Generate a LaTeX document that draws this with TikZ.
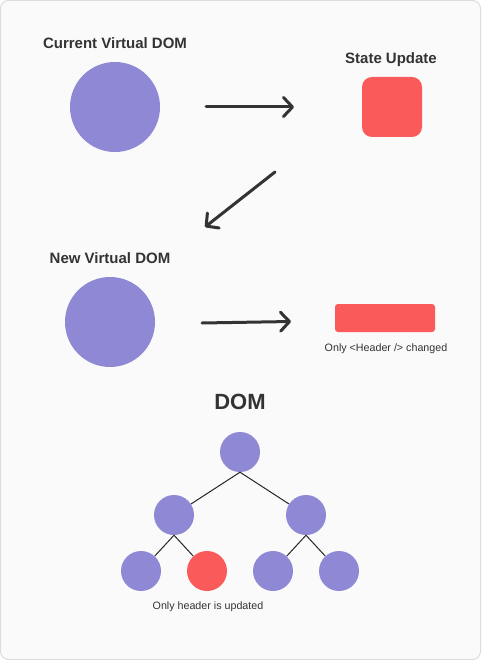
\documentclass[tikz,border=0pt]{standalone}
\usepackage{fontspec}
\setmainfont{Liberation Sans}
\usetikzlibrary{arrows.meta}
\definecolor{bg}{HTML}{FAFAFA}
\definecolor{frame}{HTML}{DCDCDC}
\definecolor{vpurple}{HTML}{8E88D5}
\definecolor{vred}{HTML}{FA5A5A}
\definecolor{ink}{HTML}{333333}
\begin{document}
\begin{tikzpicture}[x=1pt,y=-1pt,
  title/.style={font=\bfseries\fontsize{15}{18}\selectfont, text=ink, anchor=base, inner sep=0pt},
  bigtitle/.style={font=\bfseries\fontsize{22}{26}\selectfont, text=ink, anchor=base, inner sep=0pt},
  note/.style={font=\fontsize{10.7}{13}\selectfont, text=ink, anchor=base, inner sep=0pt},
  bigdot/.style={circle, fill=vpurple, minimum size=90pt, inner sep=0pt},
  treedot/.style={circle, fill=vpurple, minimum size=40pt, inner sep=0pt},
  hotdot/.style={circle, fill=vred, minimum size=40pt, inner sep=0pt},
  flow/.style={draw=ink, line width=3pt, line cap=round,
    -{Straight Barb[length=9pt,width=19pt,line cap=round,line join=round]}},
  treeedge/.style={draw=black!85, line width=1pt}]
\useasboundingbox (0,0) rectangle (481,660);
\draw[fill=bg, draw=frame, line width=1pt, rounded corners=8pt] (0.5,0.5) rectangle (480.5,659.5);

% top row
\node[title] (curT) at (115,48.3) {Current Virtual DOM};
\node[bigdot] (cur) at (115,107) {};
\node[title] (stT) at (391,63.3) {State Update};
\node[fill=vred, minimum width=60pt, minimum height=60pt, rounded corners=10pt, inner sep=0pt] (st) at (392,107) {};
\coordinate (a1s) at (206,107);
\coordinate (a1e) at (294,107);
\draw[flow] (a1s) -- (a1e);

% diagonal arrow
\coordinate (a2s) at (275,172);
\coordinate (a2e) at (205,227);
\draw[flow] (a2s) -- (a2e);

% middle row
\node[title] (newT) at (110,263.3) {New Virtual DOM};
\node[bigdot] (new) at (110,322) {};
\coordinate (a3s) at (202,323);
\coordinate (a3e) at (291,321.5);
\draw[flow] (a3s) -- (a3e);
\node[fill=vred, minimum width=100pt, minimum height=28pt, rounded corners=3pt, inner sep=0pt] (patch) at (385,318) {};
\node[note] (patchT) at (386,351) {Only <Header /> changed};

% DOM tree
\node[bigtitle] (domT) at (240,409) {DOM};
\node[treedot] (root) at (240,452) {};
\node[treedot] (l) at (174,515) {};
\node[treedot] (r) at (306,515) {};
\node[treedot] (ll) at (141,571) {};
\node[hotdot] (lr) at (207,571) {};
\node[treedot] (rl) at (273,571) {};
\node[treedot] (rr) at (339,571) {};
\draw[treeedge] (root.south) -- (l);
\draw[treeedge] (root.south) -- (r);
\draw[treeedge] (l.south) -- (ll);
\draw[treeedge] (l.south) -- (lr);
\draw[treeedge] (r.south) -- (rl);
\draw[treeedge] (r.south) -- (rr);
\node[note] (updT) at (208,609.5) {Only header is updated};
\end{tikzpicture}
\end{document}
